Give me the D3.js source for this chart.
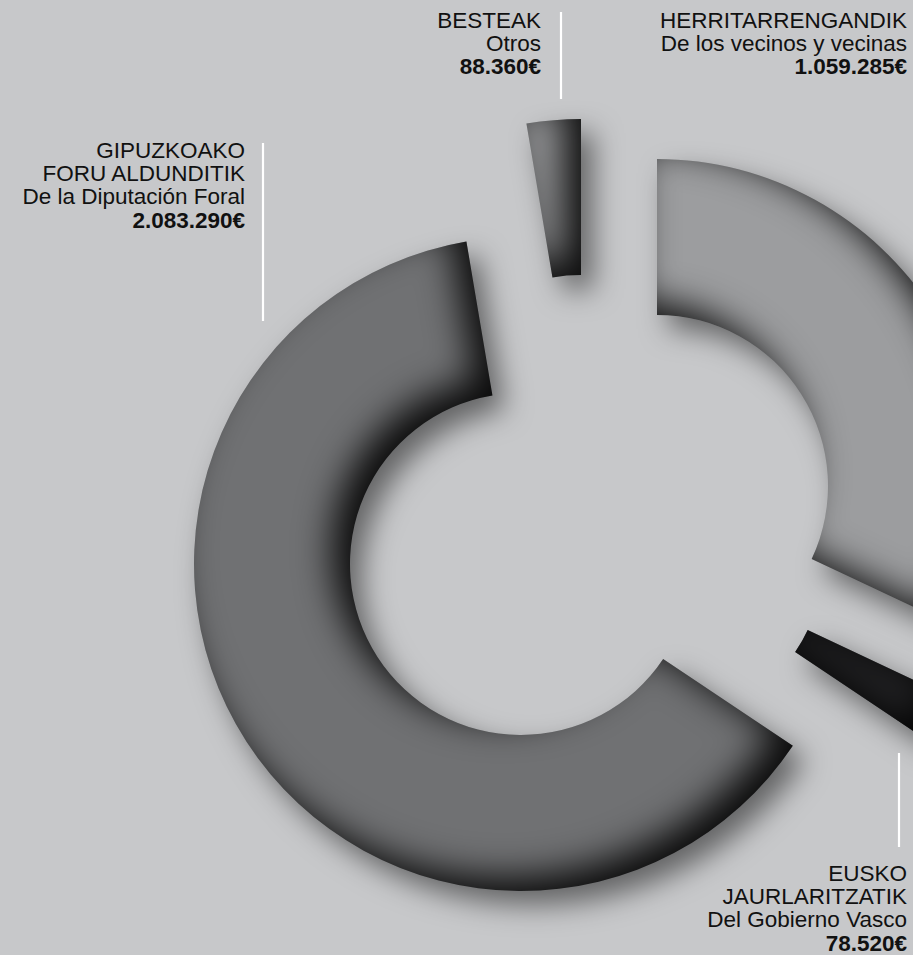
<!DOCTYPE html>
<html>
<head>
<meta charset="utf-8">
<script src="https://cdn.jsdelivr.net/npm/d3@7"></script>
<style>
  html, body { margin: 0; padding: 0; background: #c7c8ca; overflow: hidden; }
  svg { display: block; }
  text { font-family: "Liberation Sans", Arial, Helvetica, sans-serif; fill: #111; }
</style>
</head>
<body>
<svg id="chart" width="913" height="955"></svg>
<script>
// ---- data ----
const categories = ["HERRITARRENGANDIK", "EUSKO JAURLARITZATIK", "GIPUZKOAKO FORU ALDUNDITIK", "BESTEAK"];
const titleLines = [["HERRITARRENGANDIK"], ["EUSKO", "JAURLARITZATIK"], ["GIPUZKOAKO", "FORU ALDUNDITIK"], ["BESTEAK"]];
const subtitles = ["De los vecinos y vecinas", "Del Gobierno Vasco", "De la Diputación Foral", "Otros"];
const values = [1059285, 78520, 2083290, 88360];

// ---- layout / style (not data) ----
const W = 913, H = 955;
const innerR = 171, outerR = 327;
const sliceCenters = [[657, 486], [653, 557], [521, 564], [581, 446]];
const sliceColors = ["#9c9d9f", "#232325", "#707173", "#959698"];
const labelAnchor = [[907, 28], [907, 881], [245, 158], [541, 28]];
const labelRule = [null, [899, 753, 847], [263, 143, 321], [561, 12, 99]];
const lineH = 23.2;

const locale = d3.formatLocale({ decimal: ",", thousands: ".", grouping: [3], currency: ["", "€"] });
const fmt = locale.format("$,.0f");

const svg = d3.select("#chart");
svg.append("rect").attr("width", W).attr("height", H).attr("fill", "#c7c8ca");

// filter: drop shadow + inner shading
const defs = svg.append("defs");
const f = defs.append("filter").attr("id", "shade")
  .attr("filterUnits", "userSpaceOnUse")
  .attr("x", -600).attr("y", -600).attr("width", 1200).attr("height", 1200)
  .attr("color-interpolation-filters", "sRGB");
f.append("feComponentTransfer").attr("in", "SourceAlpha").attr("result", "inv")
  .append("feFuncA").attr("type", "table").attr("tableValues", "1 0");
f.append("feOffset").attr("in", "inv").attr("dx", -18).attr("dy", -14).attr("result", "invOff");
f.append("feGaussianBlur").attr("in", "invOff").attr("stdDeviation", 18).attr("result", "invBlur");
f.append("feFlood").attr("flood-color", "#000").attr("flood-opacity", 0.9).attr("result", "blk");
f.append("feComposite").attr("in", "blk").attr("in2", "invBlur").attr("operator", "in").attr("result", "sh");
f.append("feComposite").attr("in", "sh").attr("in2", "SourceAlpha").attr("operator", "in").attr("result", "inner");
f.append("feGaussianBlur").attr("in", "SourceAlpha").attr("stdDeviation", 14).attr("result", "db");
f.append("feOffset").attr("in", "db").attr("dx", 12).attr("dy", 14).attr("result", "dOff");
f.append("feFlood").attr("flood-color", "#000").attr("flood-opacity", 0.5).attr("result", "blk2");
f.append("feComposite").attr("in", "blk2").attr("in2", "dOff").attr("operator", "in").attr("result", "drop");
const m = f.append("feMerge");
m.append("feMergeNode").attr("in", "drop");
m.append("feMergeNode").attr("in", "SourceGraphic");
m.append("feMergeNode").attr("in", "inner");

const pie = d3.pie().sort(null).value(d => d).startAngle(0).endAngle(2 * Math.PI);
const arcs = pie(values);
const arc = d3.arc().innerRadius(innerR).outerRadius(outerR);

const slices = svg.append("g").selectAll("g").data(arcs).join("g")
  .attr("transform", (d, i) => `translate(${sliceCenters[i][0]},${sliceCenters[i][1]})`)
  .attr("filter", "url(#shade)");
slices.append("path").attr("d", arc).attr("fill", (d, i) => sliceColors[i]);

// labels
const lg = svg.append("g");
categories.forEach((c, i) => {
  const [x, y] = labelAnchor[i];
  const lines = titleLines[i].map(t => ({ t, b: false }))
    .concat([{ t: subtitles[i], b: false }, { t: fmt(values[i]), b: true }]);
  const t = lg.append("text").attr("text-anchor", "end").attr("font-size", 22.5);
  lines.forEach((l, k) => {
    t.append("tspan").attr("x", x).attr("y", y + k * lineH)
      .attr("font-weight", l.b ? "bold" : "normal").text(l.t);
  });
  const r = labelRule[i];
  if (r) {
    lg.append("line").attr("x1", r[0]).attr("x2", r[0]).attr("y1", r[1]).attr("y2", r[2])
      .attr("stroke", "#fff").attr("stroke-width", 2.2);
  }
});
</script>
</body>
</html>
